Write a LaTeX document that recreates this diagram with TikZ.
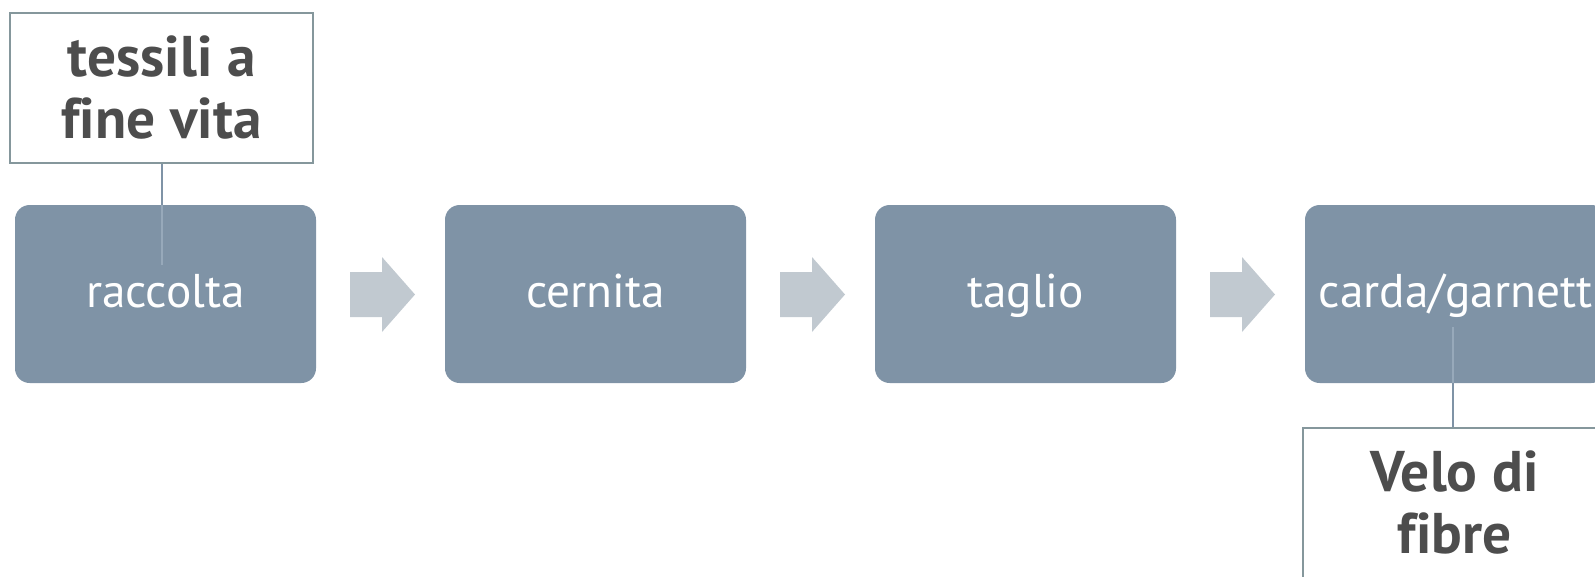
\documentclass[tikz,border=0pt]{standalone}
\usepackage{fontspec}
\setmainfont[Ligatures={NoCommon}]{PT Sans}
\definecolor{boxc}{HTML}{7F93A6}
\definecolor{arrc}{HTML}{C1C9D0}
\definecolor{calc}{HTML}{85979C}
\definecolor{txtc}{HTML}{4D4D4D}
\definecolor{linc}{HTML}{7F93A6}
\definecolor{linin}{HTML}{97A9BA}
\tikzset{
  stepbox/.style={fill=boxc, draw=none, rounded corners=11pt, minimum width=225.75pt, minimum height=133.5pt, inner sep=0pt, text=white, text height=24pt, text depth=4.5pt, font=\fontsize{35.5}{40}\selectfont},
  callout/.style={fill=white, draw=calc, line width=1.5pt, minimum width=227.25pt, minimum height=112.5pt, inner sep=0pt, text=txtc, align=center, font=\bfseries\fontsize{43}{46.5}\selectfont},
  flowarrow/.style={fill=arrc, draw=none},
  conn/.style={draw=linc, line width=1.3pt},
  connin/.style={draw=linin, line width=1.3pt}
}
\begin{document}
\begin{tikzpicture}[x=0.75pt,y=-0.75pt]
\useasboundingbox (0,0) rectangle (1595,576);
\clip (0,0) rectangle (1595,576);
% step boxes
\node[stepbox] (s1) at (165.5,294) {raccolta};
\node[stepbox] (s2) at (595.5,294) {cernita};
\node[stepbox] (s3) at (1025.5,294) {taglio};
\node[stepbox] (s4) at (1455.5,294) {carda/garnett};
% flow arrows
\foreach \dx in {0,430,860}{
  \fill[flowarrow, shift={(\dx*0.75pt,0)}] (350,272) -- (382,272) -- (382,257) -- (415,294.5) -- (382,332) -- (382,317) -- (350,317) -- cycle;
}
% callouts
\node[callout] (c1) at (161.5,88) {tessili a\\fine vita};
\node[callout] (c4) at (1454.5,503) {Velo di\\fibre};
% connectors
\coordinate (e1) at (162,265);
\coordinate (e4) at (1453,327);
\draw[conn] (c1.south -| e1) -- (s1.north -| e1);
\draw[connin] (s1.north -| e1) -- (e1);
\draw[conn] (c4.north -| e4) -- (s4.south -| e4);
\draw[connin] (s4.south -| e4) -- (e4);
\end{tikzpicture}
\end{document}
